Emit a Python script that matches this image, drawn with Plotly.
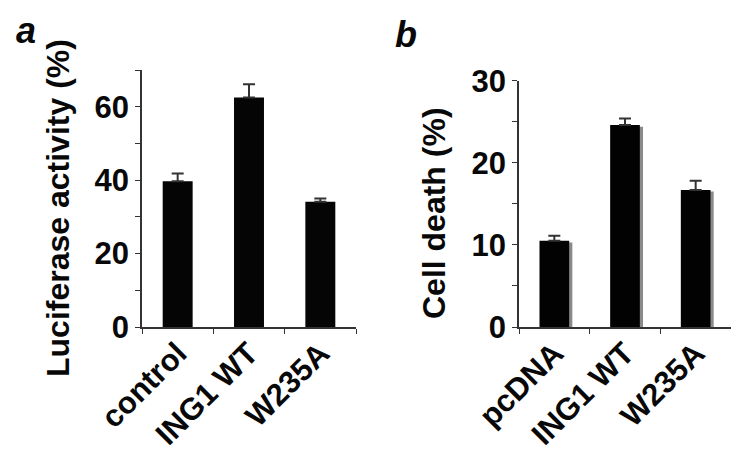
import plotly.graph_objects as go

# Panel a data
cats_a = ["control", "ING1 WT", "W235A"]
lucif = [39.7, 62.5, 34.1]
lucif_err = [2.1, 3.6, 0.9]

# Panel b data
cats_b = ["pcDNA", "ING1 WT", "W235A"]
death = [10.5, 24.6, 16.7]
death_err = [0.6, 0.8, 1.1]

W, H = 750, 458
FONT = "Liberation Sans, Arial, sans-serif"
BAR_W = 0.42

fig = go.Figure()

# panel a bars
fig.add_trace(go.Bar(
    x=cats_a, y=lucif, width=BAR_W, marker=dict(color="#050505", line=dict(width=0)),
    error_y=dict(type="data", array=lucif_err, arrayminus=[0]*len(lucif_err), symmetric=False,
                 color="#333333", thickness=2, width=6),
    xaxis="x", yaxis="y", showlegend=False))

# panel b shadow bars
fig.add_trace(go.Bar(
    x=cats_b, y=[v - 0.2 for v in death], width=BAR_W, offset=-BAR_W/2 + 0.045,
    marker=dict(color="#8a8a8a", line=dict(width=0)),
    xaxis="x2", yaxis="y2", showlegend=False))
# panel b bars
fig.add_trace(go.Bar(
    x=cats_b, y=death, width=BAR_W, offset=-BAR_W/2,
    marker=dict(color="#020202", line=dict(width=0)),
    error_y=dict(type="data", array=death_err, arrayminus=[0]*len(death_err), symmetric=False,
                 color="#333333", thickness=2, width=6),
    xaxis="x2", yaxis="y2", showlegend=False))

tickfont = dict(family=FONT, size=31, color="#080808", weight="bold")

common_x = dict(type="category", showline=True, linecolor="#333333", linewidth=1.5,
                ticks="outside", ticklen=5, tickcolor="#333333", tickson="boundaries",
                tickangle=-45, tickfont=tickfont, showgrid=False, zeroline=False,
                range=[-0.5, 2.5], automargin=False, ticklabelstandoff=-6)
common_y = dict(showline=True, linecolor="#333333", linewidth=1.5, ticks="outside",
                ticklen=5, tickcolor="#333333", tickfont=tickfont, showgrid=False,
                zeroline=False, automargin=False)

fig.update_layout(
    template="none",
    width=W, height=H,
    margin=dict(l=0, r=0, t=0, b=0),
    paper_bgcolor="white", plot_bgcolor="white",
    bargap=0.58,
    xaxis=dict(domain=[134/W, 348/W], anchor="y", **common_x),
    yaxis=dict(domain=[(H-319)/H, (H-62)/H], anchor="x", range=[0, 70], dtick=20,
               minor=dict(dtick=10, ticks="outside", ticklen=5, tickcolor="#333333"),
               **common_y),
    xaxis2=dict(domain=[511/W, 723/W], anchor="y2", **common_x),
    yaxis2=dict(domain=[(H-319)/H, (H-72.7)/H], anchor="x2", range=[0, 30], dtick=10,
                minor=dict(dtick=5, ticks="outside", ticklen=5, tickcolor="#333333"),
                **common_y),
    annotations=[
        dict(text="Luciferase activity (%)", textangle=-90, x=50/W, y=(H-200)/H,
             xref="paper", yref="paper", showarrow=False, xanchor="center", yanchor="middle",
             font=dict(family=FONT, size=32, color="#080808", weight="bold")),
        dict(text="Cell death (%)", textangle=-90, x=426/W, y=(H-205)/H,
             xref="paper", yref="paper", showarrow=False, xanchor="center", yanchor="middle",
             font=dict(family=FONT, size=32, color="#080808", weight="bold")),
        dict(text="<i>a</i>", x=6/W, y=(H-45)/H, xref="paper", yref="paper",
             showarrow=False, xanchor="left", yanchor="bottom",
             font=dict(family=FONT, size=36, color="#080808", weight="bold")),
        dict(text="<i>b</i>", x=385/W, y=(H-49)/H, xref="paper", yref="paper",
             showarrow=False, xanchor="left", yanchor="bottom",
             font=dict(family=FONT, size=36, color="#080808", weight="bold")),
    ],
)

fig.write_html("out.html")
